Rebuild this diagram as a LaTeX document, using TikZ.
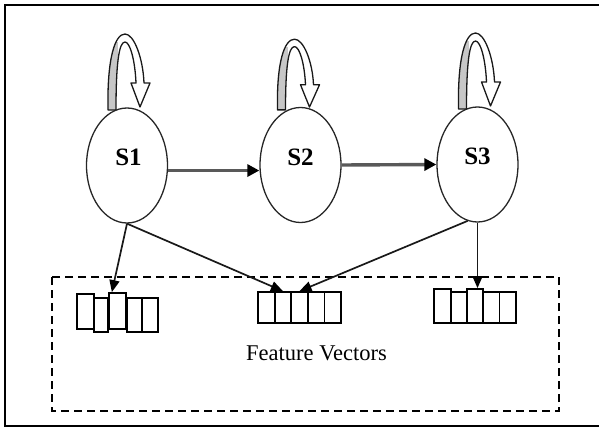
\documentclass[tikz,border=0pt]{standalone}
\usepackage{fontspec}
\setmainfont{Liberation Serif}
\usetikzlibrary{arrows.meta,calc,shapes.geometric}

\tikzset{
  state/.style={draw=black!85, line width=1.3pt, ellipse, inner sep=0pt,
    minimum width=81pt, minimum height=115pt},
  statename/.style={font=\fontsize{25}{25}\selectfont\bfseries, inner sep=0pt},
  cell/.style={draw=black, line width=1.8pt, rectangle, inner sep=0pt,
    minimum width=16.6pt, minimum height=31pt},
  emit/.style={draw=black!90, line width=1.7pt,
    -{Triangle[length=12pt,width=10pt,color=black]}},
  trans/.style={draw=black!65, line width=3.4pt,
    -{Triangle[length=12pt,width=12pt,color=black]}},
  groupbox/.style={draw=black, line width=1.8pt, dash pattern=on 8pt off 5pt},
  frame/.style={draw=black, line width=2.6pt},
  fvlabel/.style={font=\fontsize{22.5}{22.5}\selectfont, inner sep=0pt},
  % hollow self-transition band with an open arrow head
  selfloop/.pic={
    \def\lbpath{(-19,2) .. controls (-20,-50) and (-12,-74) .. (-2,-74)
      .. controls (7,-74) and (16,-50) .. (17,-25) -- (23,-25) -- (13,-1)
      -- (4,-25) -- (9,-25) .. controls (8,-48) and (3,-66) .. (-2,-66)
      .. controls (-8,-66) and (-11,-45) .. (-11,2) -- cycle}
    \fill[white] \lbpath;
    \begin{scope}
      \clip \lbpath;
      \fill[black!22] (-25,5) rectangle (-9,-66);
    \end{scope}
    \draw[black!90, line width=1.3pt, line join=round] \lbpath;
  }
}

\begin{document}
\begin{tikzpicture}[x=1pt,y=-1pt]
  \useasboundingbox (0,0) rectangle (599,428);

  % outer frame (right side runs off the page)
  \draw[frame] (601,5) -- (5,5) -- (5,426) -- (601,426);

  % self transitions, drawn under the states
  \pic (lp1) at (127,108) {selfloop};
  \pic[yscale=0.93] (lp2) at (296.5,108) {selfloop};
  \pic (lp3) at (477.5,107) {selfloop};

  % hidden states
  \node[state] (s1) at (127,165.5) {};
  \node[state] (s2) at (300.5,165) {};
  \node[state] (s3) at (477.5,164.5) {};
  \node[statename] (s1l) at (128.5,157) {S1};
  \node[statename] (s2l) at (300.5,157) {S2};
  \node[statename] (s3l) at (477.5,156) {S3};

  % transitions between states
  \draw[trans] (s1.-7) -- (s1.-7 -| s2.west);
  \draw[trans] (s2.east) -- (s3.west);

  % feature vector group
  \draw[groupbox] (52,277) rectangle (559,411);

  % left vector (staggered cells)
  \node[cell, minimum width=17pt, minimum height=35pt] (l1) at (85.5,311.5) {};
  \node[cell, minimum width=14pt, minimum height=34pt] (l2) at (101,315) {};
  \node[cell, minimum width=17pt, minimum height=36pt] (l3) at (117.5,311) {};
  \node[cell, minimum width=15pt, minimum height=34pt] (l4) at (134.5,315) {};
  \node[cell, minimum width=16pt, minimum height=34pt] (l5) at (150,315) {};

  % middle vector
  \node[cell] (m1) at (266.3,307.5) {};
  \node[cell] (m2) at (282.9,307.5) {};
  \node[cell] (m3) at (299.5,307.5) {};
  \node[cell] (m4) at (316.1,307.5) {};
  \node[cell] (m5) at (332.7,307.5) {};

  % right vector
  \node[cell, minimum height=34pt] (r1) at (442.5,306) {};
  \node[cell] (r2) at (459,307.5) {};
  \node[cell, minimum height=34pt] (r3) at (475,306) {};
  \node[cell] (r4) at (491.2,307.5) {};
  \node[cell] (r5) at (507.8,307.5) {};

  \node[fvlabel, anchor=base] (fvtext) at (316.5,360) {Feature Vectors};

  % emissions
  \draw[emit] (s1.south) -- ($(l3.north west)!0.2!(l3.north east)$);
  \draw[emit] (s1.south) -- (m2.north);
  \draw[emit] (s3.-100) -- (m3.north);
  \draw[emit] (s3.south) -- (s3.south |- r3.north);
\end{tikzpicture}
\end{document}
